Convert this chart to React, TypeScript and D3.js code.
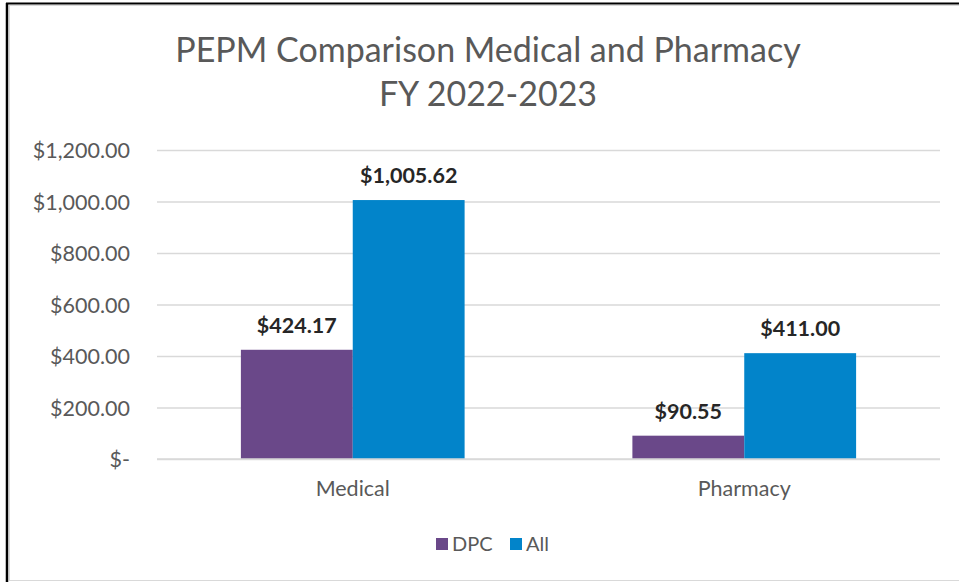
import React, { useEffect, useRef } from 'react';
import * as d3 from 'd3';

const categories = ['Medical', 'Pharmacy'];
const seriesNames = ['DPC', 'All'];
const dpcValues = [424.17, 90.55];
const allValues = [1005.62, 411.0];
const yTicks = [0, 200, 400, 600, 800, 1000, 1200];
const titleLines = ['PEPM Comparison Medical and Pharmacy', 'FY 2022-2023'];

const colors = { DPC: '#6a4889', All: '#0284ca' };
const FONT = 'Lato, Calibri, sans-serif';

function App() {
  const svgRef = useRef<SVGSVGElement>(null);

  useEffect(() => {
    const width = 959;
    const height = 582;
    const margin = { top: 150, right: 19, bottom: 123, left: 157 };

    const svg = d3.select(svgRef.current);
    svg.selectAll('*').remove();

    // outer frame
    svg.append('rect')
      .attr('x', 9.5).attr('y', 5.5)
      .attr('width', width).attr('height', 575)
      .attr('fill', '#fff').attr('stroke', '#d9d9d9');
    svg.append('line')
      .attr('x1', 7).attr('x2', 7).attr('y1', 3).attr('y2', height)
      .attr('stroke', '#000').attr('stroke-width', 2.5);
    svg.append('line')
      .attr('x1', 6).attr('x2', width).attr('y1', 3.5).attr('y2', 3.5)
      .attr('stroke', '#000').attr('stroke-width', 2);

    const x = d3.scaleBand()
      .domain(categories)
      .range([margin.left, width - margin.right]);

    const xSub = d3.scaleBand()
      .domain(seriesNames)
      .range([0, x.bandwidth()])
      .paddingOuter(0.75);

    const y = d3.scaleLinear()
      .domain([0, 1200])
      .range([height - margin.bottom, margin.top]);

    // title
    svg.append('text')
      .attr('x', 488).attr('y', 62)
      .attr('text-anchor', 'middle')
      .attr('font-family', FONT).attr('font-size', 34)
      .attr('fill', '#595959')
      .selectAll('tspan')
      .data(titleLines)
      .enter()
      .append('tspan')
      .attr('x', 488)
      .attr('dy', (d, i) => (i === 0 ? 0 : 44))
      .text(d => d);

    // y axis + gridlines
    const yAxis = svg.append('g')
      .attr('transform', `translate(${margin.left},0)`)
      .call(
        d3.axisLeft(y)
          .tickValues(yTicks)
          .tickSize(-(width - margin.left - margin.right))
          .tickPadding(27)
          .tickFormat(d => (d === 0 ? '$-' : d3.format('$,.2f')(d as number)))
      );
    yAxis.select('.domain').remove();
    yAxis.selectAll('line').attr('stroke', '#d9d9d9').attr('stroke-width', 1.5);
    yAxis.selectAll('text')
      .attr('font-family', FONT).attr('font-size', 21.5)
      .attr('fill', '#595959').attr('dy', '0.35em');

    const rows = categories.map((c, i) => ({ category: c, DPC: dpcValues[i], All: allValues[i] }));

    const groups = svg.selectAll('g.group')
      .data(rows)
      .enter()
      .append('g')
      .attr('class', 'group')
      .attr('transform', d => `translate(${x(d.category)},0)`);

    groups.selectAll('rect')
      .data(d => seriesNames.map(s => ({ s, v: d[s as 'DPC' | 'All'] })))
      .enter()
      .append('rect')
      .attr('x', d => xSub(d.s)!)
      .attr('y', d => y(d.v))
      .attr('width', xSub.bandwidth())
      .attr('height', d => y(0) - y(d.v))
      .attr('fill', d => colors[d.s as 'DPC' | 'All']);

    groups.selectAll('text')
      .data(d => seriesNames.map(s => ({ s, v: d[s as 'DPC' | 'All'] })))
      .enter()
      .append('text')
      .attr('x', d => xSub(d.s)! + xSub.bandwidth() / 2)
      .attr('y', d => y(d.v) - 17)
      .attr('text-anchor', 'middle')
      .attr('font-family', FONT).attr('font-size', 21.5).attr('font-weight', 'bold')
      .attr('fill', '#262626')
      .text(d => d3.format('$,.2f')(d.v));

    // baseline
    svg.append('line')
      .attr('x1', margin.left).attr('x2', width - margin.right)
      .attr('y1', y(0)).attr('y2', y(0))
      .attr('stroke', '#d9d9d9').attr('stroke-width', 1.5);

    // category labels
    const xAxis = svg.append('g')
      .attr('transform', `translate(0,${y(0)})`)
      .call(d3.axisBottom(x).tickSize(0).tickPadding(22));
    xAxis.select('.domain').remove();
    xAxis.selectAll('text')
      .attr('font-family', FONT).attr('font-size', 21.5)
      .attr('fill', '#595959');

    // legend
    const legendX = [436, 510];
    const legend = svg.selectAll('g.legend')
      .data(seriesNames)
      .enter()
      .append('g')
      .attr('class', 'legend')
      .attr('transform', (d, i) => `translate(${legendX[i]},538)`);
    legend.append('rect')
      .attr('width', 12).attr('height', 12)
      .attr('fill', d => colors[d as 'DPC' | 'All']);
    legend.append('text')
      .attr('x', 16).attr('y', 13)
      .attr('font-family', FONT).attr('font-size', 20)
      .attr('fill', '#595959')
      .text(d => d);
  }, []);

  return (
    <svg
      ref={svgRef}
      width={959}
      height={582}
      style={{ position: 'absolute', left: 0, top: 0, display: 'block' }}
    ></svg>
  );
}

export default App;
